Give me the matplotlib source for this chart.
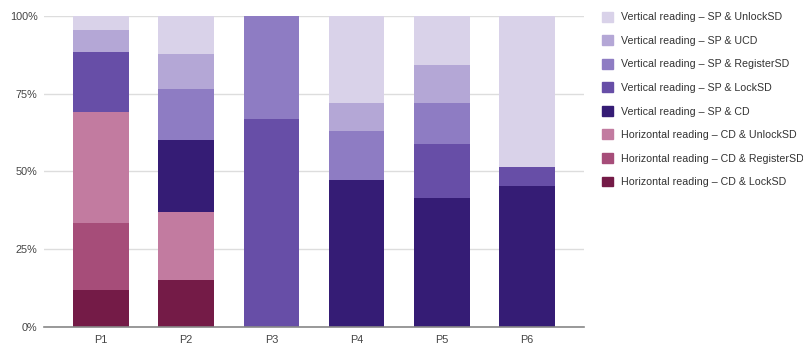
import numpy as np
import matplotlib
matplotlib.use("Agg")
from matplotlib import pyplot as plt
from matplotlib.patches import Patch

plt.rcParams['font.family'] = ['Liberation Sans', 'DejaVu Sans']

participants = ["P1", "P2", "P3", "P4", "P5", "P6"]

# shares in percent, stacked bottom to top
h_cd_locksd = [11.7, 15.1, 0, 0, 0, 0]
h_cd_registersd = [21.6, 0, 0, 0, 0, 0]
h_cd_unlocksd = [35.8, 21.8, 0, 0, 0, 0]
v_sp_cd = [0, 23.1, 0, 47.3, 41.4, 45.2]
v_sp_locksd = [19.4, 0, 66.7, 0, 17.3, 6.1]
v_sp_registersd = [0, 16.6, 33.3, 15.7, 13.2, 0]
v_sp_ucd = [7.1, 11.2, 0, 8.9, 12.3, 0]
v_sp_unlocksd = [4.4, 12.2, 0, 28.1, 15.8, 48.7]

series = [
    ("Horizontal reading \u2013 CD & LockSD", h_cd_locksd, "#741b47"),
    ("Horizontal reading \u2013 CD & RegisterSD", h_cd_registersd, "#a64d79"),
    ("Horizontal reading \u2013 CD & UnlockSD", h_cd_unlocksd, "#c27ba0"),
    ("Vertical reading \u2013 SP & CD", v_sp_cd, "#351c75"),
    ("Vertical reading \u2013 SP & LockSD", v_sp_locksd, "#674ea7"),
    ("Vertical reading \u2013 SP & RegisterSD", v_sp_registersd, "#8e7cc3"),
    ("Vertical reading \u2013 SP & UCD", v_sp_ucd, "#b4a7d6"),
    ("Vertical reading \u2013 SP & UnlockSD", v_sp_unlocksd, "#d9d2e9"),
]

fig = plt.figure(figsize=(8.04, 3.49), dpi=100)
ax = fig.add_axes([0.0547, 0.064, 0.6717, 0.89])

x = np.arange(len(participants))
bottom = np.zeros(len(participants))
for name, vals, color in series:
    vals = np.array(vals, dtype=float)
    ax.bar(x, vals, 0.655, bottom=bottom, color=color, edgecolor=color,
           linewidth=0, zorder=2)
    bottom += vals

ax.set_xlim(-0.67, 5.67)
ax.set_ylim(0, 100)
ax.set_yticks([0, 25, 50, 75, 100])
ax.set_yticklabels(["0%", "25%", "50%", "75%", "100%"])
ax.set_xticks(x)
ax.set_xticklabels(participants)
ax.tick_params(length=0, labelsize=7.8, colors="#444444")
ax.tick_params(axis="y", pad=4.5)
ax.tick_params(axis="x", pad=6)
ax.grid(axis="y", color="#dddddd", linewidth=1, zorder=0)
for s in ["top", "right", "left"]:
    ax.spines[s].set_visible(False)
ax.spines["bottom"].set_color("#888888")
ax.spines["bottom"].set_linewidth(1.2)
ax.spines["bottom"].set_zorder(3)

handles = [Patch(facecolor=c, edgecolor=c, label=n) for n, v, c in series][::-1]
fig.legend(handles=handles, loc="upper left", bbox_to_anchor=(0.737, 0.994),
           frameon=False, fontsize=7.7, handlelength=1.05, handleheight=1.05,
           handletextpad=0.75, labelspacing=1.21, labelcolor="#333333")

plt.savefig("out.png", dpi=100)
